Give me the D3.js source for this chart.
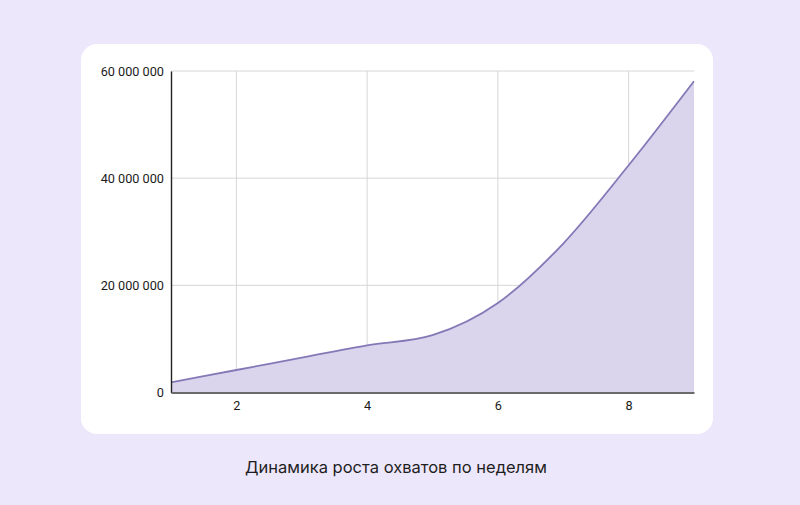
<!DOCTYPE html>
<html>
<head>
<meta charset="utf-8">
<script src="https://cdn.jsdelivr.net/npm/d3@7"></script>
<style>
  html, body { margin: 0; padding: 0; background: #ede7fb; }
</style>
</head>
<body>
<div id="chart"></div>
<script>
/*
    DATA
*/
let weeks = [1, 2, 3, 4, 5, 6, 7, 8, 9];
let reach = [1900000, 4200000, 6500000, 8800000, 10700000, 16700000, 27800000, 42400000, 58100000];
let xTicks = [2, 4, 6, 8];
let yTicks = [0, 20000000, 40000000, 60000000];
let caption = "Динамика роста охватов по неделям";

/*
    LAYOUT
*/
let SIZE = { width: 800, height: 505 };
let CARD = { x: 81, y: 44, width: 632, height: 390, r: 16 };
let PLOT = { left: 171, right: 694, top: 71, bot: 392.5 };

var svg = d3.select("#chart")
    .append("svg")
    .attr("width", SIZE.width)
    .attr("height", SIZE.height);

svg.append("rect")
    .attr("width", SIZE.width)
    .attr("height", SIZE.height)
    .attr("fill", "#ede7fb");

svg.append("rect")
    .attr("x", CARD.x)
    .attr("y", CARD.y)
    .attr("width", CARD.width)
    .attr("height", CARD.height)
    .attr("rx", CARD.r)
    .attr("fill", "#ffffff");

var x = d3.scaleLinear().domain([1, 9]).range([PLOT.left, PLOT.right]);
var y = d3.scaleLinear().domain([0, 60000000]).range([PLOT.bot, PLOT.top]);

// grid
svg.append("g")
    .selectAll("line")
    .data(xTicks)
    .enter()
    .append("line")
    .attr("x1", d => x(d)).attr("x2", d => x(d))
    .attr("y1", PLOT.top).attr("y2", PLOT.bot)
    .attr("stroke", "#d6d6d6")
    .attr("stroke-width", 1);

svg.append("g")
    .selectAll("line")
    .data(yTicks.slice(1))
    .enter()
    .append("line")
    .attr("x1", PLOT.left).attr("x2", PLOT.right)
    .attr("y1", d => y(d)).attr("y2", d => y(d))
    .attr("stroke", "#d6d6d6")
    .attr("stroke-width", 1);

// area + line
var area = d3.area()
    .x((d, i) => x(weeks[i]))
    .y0(y(0))
    .y1(d => y(d))
    .curve(d3.curveMonotoneX);

var line = d3.line()
    .x((d, i) => x(weeks[i]))
    .y(d => y(d))
    .curve(d3.curveMonotoneX);

svg.append("path")
    .datum(reach)
    .attr("d", area)
    .attr("fill", "#dad4ed");

svg.append("path")
    .datum(reach)
    .attr("d", line)
    .attr("fill", "none")
    .attr("stroke", "#8479b6")
    .attr("stroke-width", 1.8);

// axes
var fmt = v => d3.format(",")(v).replace(/,/g, " ");

var yAxis = svg.append("g")
    .attr("transform", `translate(${PLOT.left},0)`)
    .call(d3.axisLeft(y).tickValues(yTicks).tickSize(0).tickPadding(7).tickFormat(fmt));
yAxis.select(".domain").attr("stroke", "#222").attr("stroke-width", 1.4);
yAxis.selectAll("text")
    .attr("fill", "#1a1a1a")
    .style("font-family", "Roboto, Arial, sans-serif")
    .style("font-size", "12.7px");

var xAxis = svg.append("g")
    .attr("transform", `translate(0,${PLOT.bot})`)
    .call(d3.axisBottom(x).tickValues(xTicks).tickSize(0).tickPadding(8).tickFormat(d3.format("d")));
xAxis.select(".domain").attr("stroke", "#6b6b6b").attr("stroke-width", 2);
xAxis.selectAll("text")
    .attr("fill", "#1a1a1a")
    .style("font-family", "Roboto, Arial, sans-serif")
    .style("font-size", "12.7px");

// caption
svg.append("text")
    .attr("x", 396)
    .attr("y", 473)
    .attr("text-anchor", "middle")
    .attr("fill", "#1e1e1e")
    .style("font-family", "Inter, 'Open Sans', sans-serif")
    .style("font-size", "16.5px")
    .text(caption);
</script>
</body>
</html>
